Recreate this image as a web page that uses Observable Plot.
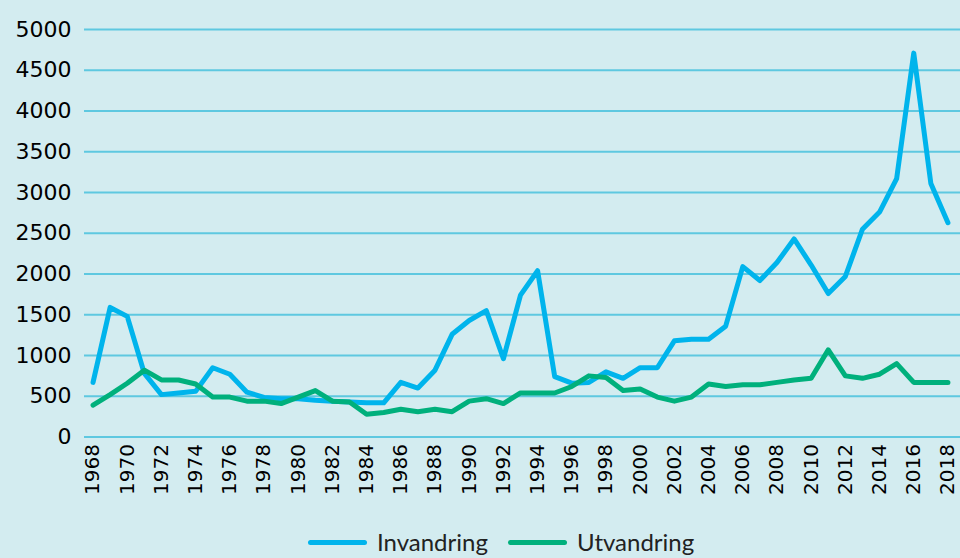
<!DOCTYPE html>
<html>
<head>
<meta charset="utf-8">
<script src="https://cdn.jsdelivr.net/npm/d3@7"></script>
<script src="https://cdn.jsdelivr.net/npm/@observablehq/plot@0.6"></script>
<style>
  html, body { margin: 0; padding: 0; background: #d3ecf0; }
  #wrap { width: 960px; height: 558px; position: relative; background: #d3ecf0; overflow: hidden; }
  #legend { position: absolute; left: 0; top: 510px; width: 960px; height: 48px; font-family: Lato, "DejaVu Sans", sans-serif; font-size: 24px; color: #222; }
  .item { position: absolute; top: 19px; display: flex; align-items: center; height: 26px; line-height: 26px; }
  .swatch { width: 59px; height: 5px; border-radius: 3px; margin-right: 10px; }
</style>
</head>
<body>
<div id="wrap">
  <div id="chart"></div>
  <div id="legend"></div>
</div>
<script>
const years = d3.range(1968, 2019);
const invandring = [670,1590,1480,780,520,540,560,850,770,550,
                    485,470,470,450,440,430,420,420,670,600,
                    820,1260,1430,1550,960,1740,2040,740,660,670,
                    800,720,850,850,1180,1200,1200,1360,2090,1920,
                    2140,2430,2110,1760,1970,2550,2760,3170,4710,3110,
                    2630];
const utvandring = [390,520,660,820,700,700,650,490,490,440,
                    440,410,490,570,440,430,280,300,340,310,
                    340,310,440,470,410,540,540,540,620,750,
                    730,570,590,490,440,490,650,620,640,640,
                    670,700,720,1070,750,720,770,900,670,670,
                    670];
const seriesNames = ["Invandring", "Utvandring"];
const seriesColors = ["#00b4ec", "#00b07c"];
const yTicks = d3.range(0, 5001, 500);
const xTicks = years.filter(y => y % 2 === 0);

const data = [];
years.forEach((yr, i) => {
  data.push({year: yr, value: invandring[i], series: seriesNames[0]});
  data.push({year: yr, value: utvandring[i], series: seriesNames[1]});
});

const chart = Plot.plot({
  width: 960,
  height: 510,
  marginLeft: 84,
  marginRight: 0,
  marginTop: 29,
  marginBottom: 73.5,
  style: {background: "transparent", fontFamily: "'DejaVu Sans', sans-serif", fontSize: "22px", color: "#000"},
  x: {type: "point", domain: years, padding: 0.5, round: false, range: [84, 956]},
  y: {domain: [0, 5000]},
  color: {domain: seriesNames, range: seriesColors},
  marks: [
    Plot.ruleY(yTicks, {stroke: "#5ec8e0", strokeWidth: 2}),
    Plot.axisY({ticks: yTicks, tickSize: 0, tickPadding: 13, label: null, fontSize: 22, tickFormat: d => String(d)}),
    Plot.axisX({ticks: xTicks, tickSize: 0, tickPadding: 7, tickRotate: -90, label: null, fontSize: 20, tickFormat: d => String(d)}),
    Plot.line(data, {x: "year", y: "value", stroke: "series", z: "series", strokeWidth: 5, strokeLinejoin: "round", strokeLinecap: "round"})
  ]
});
document.getElementById("chart").appendChild(chart);

const legend = document.getElementById("legend");
const lefts = [308, 508];
seriesNames.forEach((name, i) => {
  const item = document.createElement("div");
  item.className = "item";
  item.style.left = lefts[i] + "px";
  const sw = document.createElement("div");
  sw.className = "swatch";
  sw.style.background = seriesColors[i];
  const label = document.createElement("span");
  label.textContent = name;
  item.appendChild(sw);
  item.appendChild(label);
  legend.appendChild(item);
});
</script>
</body>
</html>
